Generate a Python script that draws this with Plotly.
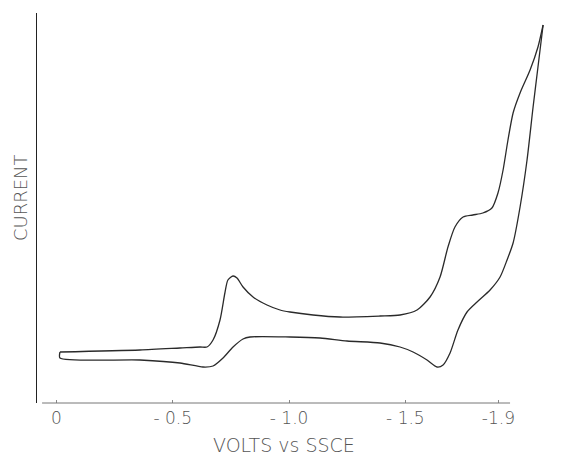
import plotly.graph_objects as go

# Forward (cathodic) scan, upper branch: potential (V vs SSCE), current (arb. units)
fwd_v = [-0.015, -0.359, -0.531, -0.617, -0.647, -0.673, -0.703, -0.724, -0.737, -0.759,
         -0.776, -0.802, -0.845, -0.905, -0.961, -1.004, -1.103, -1.219, -1.391, -1.477,
         -1.550, -1.606, -1.649, -1.683, -1.713, -1.748, -1.790, -1.833, -1.872, -1.898,
         -1.920, -1.941, -1.963, -1.993, -2.036, -2.070, -2.092]
fwd_i = [5.1, 5.3, 5.5, 5.6, 5.6, 6.3, 8.3, 11.0, 12.3, 12.7,
         12.5, 11.6, 10.6, 9.8, 9.3, 9.1, 8.8, 8.6, 8.7, 8.8,
         9.3, 10.6, 12.6, 15.6, 17.6, 18.6, 18.8, 19.0, 19.5, 21.0,
         23.3, 26.3, 29.0, 31.0, 33.3, 35.6, 37.8]

# Reverse (anodic) scan, lower branch
rev_v = [-2.092, -2.070, -2.049, -2.023, -1.993, -1.963, -1.937, -1.907, -1.864, -1.808,
         -1.765, -1.726, -1.692, -1.662, -1.636, -1.593, -1.533, -1.477, -1.391, -1.249,
         -1.133, -1.004, -0.832, -0.802, -0.759, -0.716, -0.673, -0.630, -0.531, -0.359,
         -0.015, -0.015]
rev_i = [37.8, 33.6, 29.6, 24.3, 19.6, 16.0, 14.3, 12.6, 11.3, 10.1,
         9.1, 7.3, 5.0, 3.8, 3.6, 4.3, 5.1, 5.6, 6.0, 6.2,
         6.5, 6.6, 6.6, 6.4, 5.6, 4.5, 3.7, 3.6, 4.0, 4.3,
         4.5, 5.1]

tick_vals = [0, -0.5, -1.0, -1.5, -1.9]
tick_text = ["0", "- 0.5", "- 1.0", "- 1.5", "-1.9"]
axis_span = [0.062, -1.95]

font_fam = "DejaVu Sans"
txt_col = "#555555"

fig = go.Figure()
for xs, ys in ((fwd_v, fwd_i), (rev_v, rev_i)):
    fig.add_trace(go.Scatter(x=xs, y=ys, mode="lines",
                             line=dict(color="#2a2a2a", width=1.3, shape="spline", smoothing=0.7),
                             showlegend=False, hoverinfo="skip"))

fig.add_shape(type="line", xref="x", yref="paper", x0=axis_span[0], x1=axis_span[1],
              y0=0, y1=0, line=dict(color="#777777", width=1))

# page body adds an 8px margin; figure is sized to fit the remaining window
fig.update_layout(
    width=562, height=450,
    margin=dict(l=29, r=20, t=5, b=55),
    paper_bgcolor="white", plot_bgcolor="white",
    xaxis=dict(range=[0.0838, -2.1217], tickvals=tick_vals, ticktext=tick_text,
               showgrid=False, zeroline=False, showline=False,
               ticks="inside", ticklen=3, tickcolor="#888888", ticklabelstandoff=3,
               tickfont=dict(family=font_fam, size=17, color=txt_col, weight=200)),
    yaxis=dict(range=[0, 39], showgrid=False, zeroline=False, showline=True,
               linecolor="#222222", linewidth=1.4, showticklabels=False, ticks=""),
    annotations=[
        dict(text="VOLTS vs SSCE", xref="paper", yref="paper", x=0.4815, y=-0.1077,
             showarrow=False, xanchor="center", yanchor="middle",
             font=dict(family=font_fam, size=19, color=txt_col, weight=200)),
        dict(text="CURRENT", xref="paper", yref="paper", x=-0.033, y=0.5256,
             showarrow=False, xanchor="center", yanchor="middle", textangle=-90,
             font=dict(family=font_fam, size=18, color=txt_col, weight=200)),
    ],
)

fig.write_html("out.html")
